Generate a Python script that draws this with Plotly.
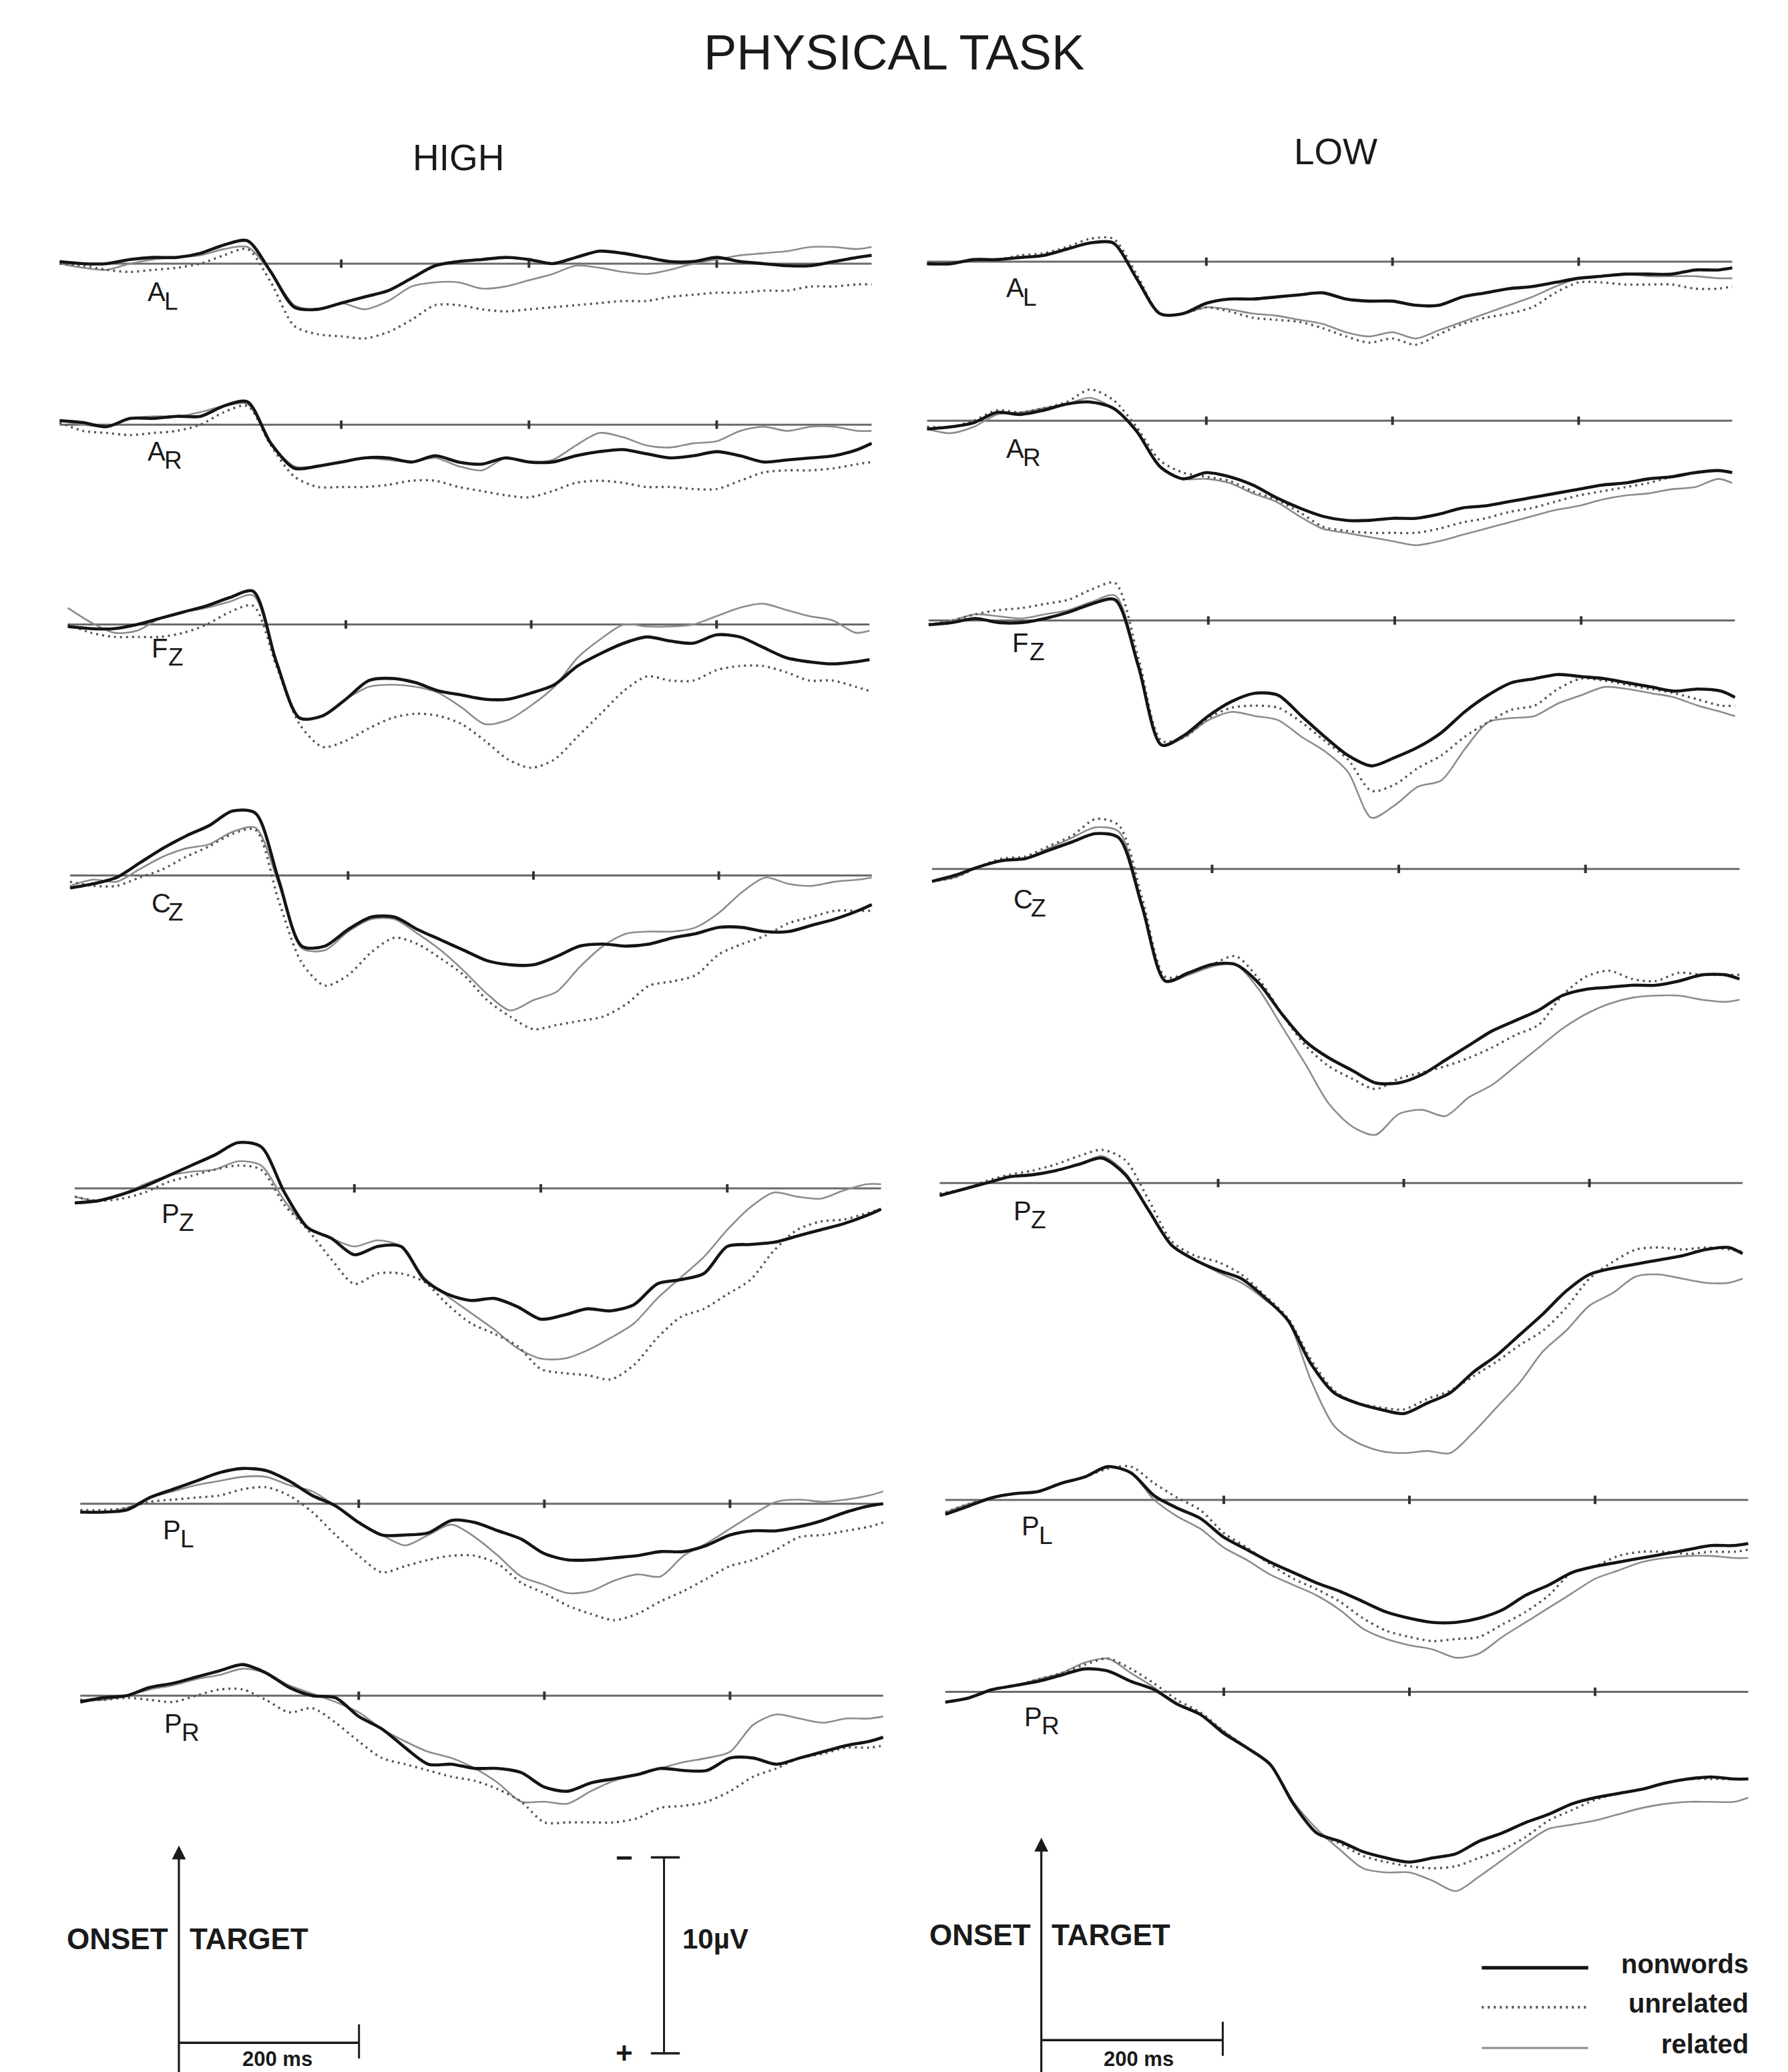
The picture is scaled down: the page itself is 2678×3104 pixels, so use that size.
import plotly.graph_objects as go

# ---------------------------------------------------------------- page
W, H = 2678, 3104
S = W / 1360.0            # sketch units (reference at 1360 wide) -> pixels
HD = H / S                # page height in sketch units
PX_PER_UV = 15.8          # sketch units per microvolt (negative plotted up)

# ---------------------------------------------------------------- data
T = [-100, -75, -50, -25, 0, 25, 50, 75, 100, 125, 150, 175, 200, 225, 250, 275,
     300, 325, 350, 375, 400, 425, 450, 475, 500, 525, 550, 575, 600, 625, 650,
     675, 700, 725, 750, 765]   # ms after target onset

COLUMNS = ["HIGH", "LOW"]
ELECTRODES = ["AL", "AR", "FZ", "CZ", "PZ", "PL", "PR"]
LABEL_MAIN = ["A", "A", "F", "C", "P", "P", "P"]
LABEL_SUB = ["L", "R", "Z", "Z", "Z", "L", "R"]
CONDITIONS = ["related", "unrelated", "nonwords"]   # drawing order
TICKS_MS = [200, 400, 600]
EPOCH_MS = [-100, 765]

# amplitudes in microvolts
HIGH_AL_NONWORDS = [-0.1,0.0,0.0,-0.2,-0.3,-0.3,-0.5,-0.9,-1.1,0.4,2.1,2.2,1.9,1.6,1.3,0.7,0.1,-0.1,-0.2,-0.3,-0.2,0.0,-0.3,-0.6,-0.5,-0.3,-0.1,-0.1,-0.3,-0.1,0.0,0.1,0.1,-0.1,-0.3,-0.4]
HIGH_AL_UNRELATED = [0.0,0.1,0.3,0.4,0.3,0.2,0.0,-0.4,-0.7,0.9,3.0,3.4,3.5,3.6,3.3,2.7,2.0,2.0,2.2,2.3,2.2,2.1,2.0,1.9,1.8,1.8,1.6,1.5,1.4,1.4,1.3,1.3,1.1,1.1,1.0,1.0]
HIGH_AL_RELATED = [0.0,0.2,0.3,0.0,-0.2,-0.3,-0.4,-0.7,-0.8,0.4,2.0,2.2,1.9,2.2,1.8,1.1,0.9,0.9,1.2,1.1,0.8,0.5,0.1,0.2,0.4,0.5,0.3,0.0,-0.2,-0.4,-0.5,-0.6,-0.8,-0.8,-0.7,-0.8]

HIGH_AR_NONWORDS = [-0.2,-0.1,0.1,-0.3,-0.3,-0.4,-0.4,-0.9,-1.1,0.9,2.1,2.0,1.8,1.6,1.6,1.8,1.5,1.8,1.9,1.6,1.8,1.8,1.5,1.3,1.2,1.4,1.6,1.5,1.3,1.5,1.8,1.7,1.6,1.5,1.2,0.9]
HIGH_AR_UNRELATED = [-0.1,0.3,0.4,0.5,0.4,0.3,0.0,-0.6,-0.9,1.0,2.5,3.0,3.0,3.0,2.9,2.7,2.7,3.0,3.2,3.4,3.5,3.2,2.8,2.7,2.8,3.0,3.0,3.1,3.1,2.7,2.3,2.2,2.2,2.1,1.9,1.8]
HIGH_AR_RELATED = [-0.2,0.0,0.1,-0.3,-0.4,-0.4,-0.6,-0.9,-1.0,0.9,2.0,2.0,1.8,1.6,1.7,1.8,1.6,2.0,2.2,1.6,1.8,1.7,1.0,0.4,0.6,1.0,1.1,0.9,0.8,0.3,0.1,0.3,0.1,0.1,0.3,0.3]

HIGH_FZ_NONWORDS = [0.1,0.2,0.2,0.0,-0.3,-0.6,-0.9,-1.3,-1.6,1.8,4.5,4.4,3.6,2.7,2.6,2.8,3.2,3.4,3.6,3.6,3.3,2.9,2.0,1.4,0.9,0.6,0.8,0.9,0.5,0.6,1.1,1.6,1.8,1.9,1.8,1.7]
HIGH_FZ_UNRELATED = [0.0,0.4,0.6,0.6,0.6,0.4,0.0,-0.6,-0.9,2.0,4.8,5.9,5.6,5.0,4.5,4.3,4.4,4.8,5.6,6.5,6.9,6.5,5.4,4.3,3.2,2.5,2.7,2.7,2.2,2.0,2.0,2.3,2.7,2.7,3.0,3.2]
HIGH_FZ_RELATED = [-0.8,-0.1,0.4,0.3,-0.3,-0.6,-0.8,-1.1,-1.4,1.8,4.5,4.4,3.6,3.0,2.9,3.0,3.3,4.0,4.8,4.6,3.9,3.0,1.6,0.7,0.0,0.1,0.1,0.0,-0.4,-0.8,-1.0,-0.7,-0.4,-0.2,0.4,0.3]

HIGH_CZ_NONWORDS = [0.6,0.4,0.1,-0.6,-1.3,-1.9,-2.4,-3.1,-3.0,0.2,3.4,3.4,2.6,2.0,2.0,2.6,3.1,3.6,4.1,4.3,4.3,3.9,3.4,3.3,3.4,3.3,3.0,2.8,2.5,2.5,2.7,2.7,2.4,2.1,1.7,1.4]
HIGH_CZ_UNRELATED = [0.3,0.5,0.5,0.1,-0.3,-0.9,-1.4,-2.0,-2.2,1.2,4.2,5.3,4.8,3.7,3.0,3.3,4.0,4.8,6.0,6.8,7.4,7.2,7.0,6.8,6.2,5.3,5.1,4.8,3.8,3.3,2.9,2.3,2.0,1.7,1.7,1.7]
HIGH_CZ_RELATED = [0.5,0.2,0.3,-0.3,-0.9,-1.3,-1.5,-2.1,-2.3,0.4,3.5,3.6,2.7,2.1,2.1,2.8,3.6,4.6,5.7,6.5,6.0,5.6,4.4,3.4,2.8,2.7,2.7,2.5,1.8,0.8,0.1,0.4,0.5,0.3,0.2,0.1]

HIGH_PZ_NONWORDS = [0.7,0.6,0.3,-0.1,-0.6,-1.1,-1.6,-2.2,-2.0,0.2,1.9,2.4,3.2,2.8,2.8,4.4,5.1,5.4,5.3,5.7,6.3,6.1,5.8,5.9,5.6,4.6,4.4,4.1,2.8,2.7,2.6,2.3,2.0,1.7,1.3,1.0]
HIGH_PZ_UNRELATED = [0.4,0.6,0.5,0.2,-0.3,-0.6,-0.9,-1.1,-0.9,0.8,2.0,3.4,4.6,4.1,4.1,4.5,5.6,6.5,7.0,7.6,8.7,8.9,9.0,9.2,8.5,7.2,6.2,5.8,5.1,4.4,3.0,2.0,1.6,1.5,1.2,1.0]
HIGH_PZ_RELATED = [0.4,0.6,0.3,-0.2,-0.6,-0.8,-0.9,-1.3,-1.1,0.6,1.9,2.4,2.8,2.5,2.8,4.3,5.2,6.0,6.8,7.7,8.2,8.2,7.8,7.2,6.5,5.3,4.3,3.3,2.0,0.9,0.2,0.4,0.5,0.1,-0.2,-0.2]

HIGH_PL_NONWORDS = [0.4,0.4,0.3,-0.3,-0.7,-1.1,-1.5,-1.7,-1.6,-1.1,-0.4,0.1,0.9,1.5,1.5,1.4,0.8,0.9,1.3,1.7,2.4,2.7,2.7,2.6,2.5,2.3,2.3,2.0,1.5,1.3,1.3,1.1,0.8,0.4,0.1,0.0]
HIGH_PL_UNRELATED = [0.3,0.3,0.2,-0.1,-0.2,-0.3,-0.4,-0.7,-0.8,-0.4,0.4,1.5,2.5,3.3,3.0,2.7,2.5,2.5,2.9,3.8,4.3,4.9,5.3,5.6,5.3,4.7,4.2,3.6,3.0,2.7,2.2,1.6,1.5,1.3,1.1,0.9]
HIGH_PL_RELATED = [0.4,0.4,0.2,-0.3,-0.6,-0.9,-1.1,-1.3,-1.3,-0.9,-0.6,0.1,0.9,1.5,2.0,1.5,1.0,1.6,2.5,3.5,3.9,4.3,4.2,3.7,3.4,3.5,2.5,1.9,1.2,0.5,-0.1,-0.2,-0.1,-0.2,-0.4,-0.6]

HIGH_PR_NONWORDS = [0.3,0.1,0.0,-0.4,-0.6,-0.9,-1.2,-1.5,-1.1,-0.4,0.0,0.1,1.0,1.6,2.5,3.3,3.3,3.5,3.5,3.7,4.4,4.6,4.2,4.0,3.8,3.5,3.6,3.6,3.0,3.0,3.3,3.0,2.7,2.4,2.2,2.0]
HIGH_PR_UNRELATED = [0.2,0.2,0.1,0.2,0.3,0.0,-0.3,-0.3,0.2,0.8,0.6,1.3,2.2,3.0,3.3,3.6,3.9,4.1,4.5,5.1,6.1,6.1,6.1,6.1,5.9,5.4,5.3,5.1,4.6,3.9,3.5,3.0,2.8,2.5,2.5,2.4]
HIGH_PR_RELATED = [0.2,0.2,0.0,-0.3,-0.5,-0.8,-1.0,-1.3,-1.1,-0.5,-0.1,0.3,0.8,1.6,2.2,2.7,3.0,3.5,4.2,5.1,5.1,5.2,4.6,4.1,3.8,3.5,3.2,3.0,2.7,1.4,0.9,1.1,1.3,1.1,1.1,1.0]

LOW_AL_NONWORDS = [0.1,0.1,-0.1,-0.1,-0.2,-0.3,-0.6,-0.9,-0.9,0.8,2.5,2.5,2.0,1.8,1.8,1.7,1.6,1.5,1.8,1.9,1.9,2.1,2.1,1.7,1.5,1.3,1.2,1.0,0.8,0.7,0.6,0.6,0.6,0.4,0.4,0.3]
LOW_AL_UNRELATED = [0.1,0.1,-0.1,-0.1,-0.3,-0.4,-0.7,-1.1,-1.1,0.6,2.5,2.5,2.2,2.4,2.7,2.8,2.9,3.2,3.6,3.9,3.7,4.0,3.5,3.0,2.7,2.5,2.2,1.5,1.0,1.0,1.1,1.1,1.1,1.3,1.3,1.2]
LOW_AL_RELATED = [0.1,0.1,-0.1,-0.1,-0.2,-0.3,-0.6,-0.9,-0.9,0.8,2.5,2.5,2.2,2.3,2.5,2.6,2.8,3.0,3.4,3.6,3.4,3.7,3.3,2.9,2.5,2.1,1.7,1.2,0.8,0.7,0.6,0.7,0.7,0.7,0.8,0.8]

LOW_AR_NONWORDS = [0.4,0.3,0.1,-0.4,-0.3,-0.5,-0.8,-0.9,-0.6,0.5,2.2,2.8,2.5,2.7,3.1,3.7,4.2,4.6,4.8,4.8,4.7,4.7,4.5,4.2,4.1,3.9,3.7,3.5,3.3,3.1,3.0,2.8,2.7,2.5,2.4,2.5]
LOW_AR_UNRELATED = [0.3,0.3,0.0,-0.5,-0.4,-0.6,-0.9,-1.5,-1.0,0.3,1.9,2.5,2.7,2.9,3.4,3.8,4.4,5.1,5.3,5.4,5.4,5.4,5.2,4.9,4.7,4.4,4.2,3.9,3.6,3.4,3.2,3.0,2.7,2.5,2.4,2.5]
LOW_AR_RELATED = [0.4,0.6,0.3,-0.3,-0.4,-0.6,-0.8,-1.1,-0.6,0.5,2.2,2.8,2.8,3.0,3.5,3.9,4.6,5.2,5.4,5.6,5.8,6.0,5.8,5.5,5.2,4.9,4.6,4.3,4.1,3.8,3.6,3.5,3.3,3.2,2.8,3.0]

LOW_FZ_NONWORDS = [0.2,0.1,-0.1,0.1,0.1,-0.1,-0.4,-0.8,-1.0,2.2,6.0,5.5,4.6,3.9,3.5,3.6,4.6,5.6,6.5,7.0,6.6,6.1,5.4,4.4,3.6,3.0,2.8,2.6,2.7,2.8,3.0,3.2,3.4,3.3,3.4,3.7]
LOW_FZ_UNRELATED = [0.2,0.0,-0.3,-0.5,-0.6,-0.8,-1.0,-1.5,-1.8,1.8,5.8,5.6,4.7,4.2,4.1,4.2,4.9,5.8,6.7,8.2,7.9,7.1,6.5,5.6,4.9,4.3,4.1,3.3,2.8,2.9,3.1,3.3,3.5,3.8,4.1,4.1]
LOW_FZ_RELATED = [0.2,0.0,-0.3,-0.2,-0.1,-0.3,-0.5,-0.9,-1.2,2.1,6.0,5.6,4.8,4.4,4.6,4.8,5.6,6.3,7.3,9.5,8.9,8.0,7.7,6.2,4.9,4.7,4.6,4.0,3.6,3.2,3.3,3.5,3.7,4.1,4.4,4.6]

LOW_CZ_NONWORDS = [0.6,0.3,-0.1,-0.4,-0.5,-0.9,-1.3,-1.7,-1.5,1.8,5.4,5.0,4.6,4.6,5.5,7.0,8.3,9.1,9.7,10.3,10.3,9.9,9.2,8.5,7.8,7.3,6.8,6.1,5.8,5.7,5.6,5.6,5.4,5.1,5.1,5.3]
LOW_CZ_UNRELATED = [0.6,0.4,-0.1,-0.5,-0.6,-1.1,-1.6,-2.4,-2.1,1.4,5.2,5.0,4.6,4.2,5.3,7.0,8.5,9.5,10.1,10.6,10.1,9.8,9.5,9.1,8.6,8.0,7.5,6.1,5.2,4.9,5.3,5.4,5.0,5.1,5.1,5.1]
LOW_CZ_RELATED = [0.6,0.4,-0.1,-0.4,-0.5,-1.0,-1.5,-2.0,-1.8,1.7,5.4,5.1,4.7,4.6,5.8,7.6,9.4,11.3,12.4,12.8,11.8,11.6,11.9,11.0,10.4,9.5,8.6,7.7,7.0,6.5,6.2,6.1,6.1,6.3,6.4,6.3]

LOW_PZ_NONWORDS = [0.6,0.3,0.0,-0.3,-0.4,-0.6,-0.9,-1.2,-0.4,1.3,3.0,3.7,4.2,4.6,5.5,6.6,8.7,10.1,10.6,10.9,11.1,10.6,10.1,9.1,8.3,7.3,6.3,5.2,4.4,4.1,3.9,3.7,3.5,3.2,3.1,3.4]
LOW_PZ_UNRELATED = [0.5,0.3,-0.1,-0.4,-0.6,-0.9,-1.3,-1.6,-1.1,0.8,2.8,3.5,3.8,4.4,5.4,6.5,8.5,10.0,10.6,10.8,10.9,10.4,10.0,9.3,8.6,7.8,7.1,6.0,4.6,3.8,3.2,3.1,3.2,3.1,3.2,3.3]
LOW_PZ_RELATED = [0.6,0.3,0.0,-0.3,-0.4,-0.6,-0.9,-1.3,-0.5,1.3,3.0,3.7,4.3,4.8,5.6,6.6,9.5,11.7,12.5,12.9,13.0,12.9,13.0,12.0,10.8,9.6,8.1,7.1,5.9,5.3,4.5,4.4,4.6,4.8,4.8,4.6]

LOW_PL_NONWORDS = [0.7,0.3,-0.1,-0.3,-0.4,-0.8,-1.1,-1.6,-1.3,-0.2,0.4,0.9,1.8,2.4,3.0,3.5,4.0,4.4,4.9,5.4,5.7,5.9,5.9,5.7,5.3,4.6,4.1,3.5,3.2,3.0,2.8,2.6,2.4,2.2,2.2,2.1]
LOW_PL_UNRELATED = [0.6,0.2,-0.1,-0.3,-0.4,-0.8,-1.1,-1.5,-1.6,-0.8,-0.1,0.5,1.6,2.3,3.1,3.8,4.3,4.9,5.7,6.3,6.6,6.8,6.7,6.6,6.0,5.4,4.6,3.5,3.2,2.7,2.5,2.5,2.6,2.5,2.5,2.4]
LOW_PL_RELATED = [0.6,0.2,-0.1,-0.3,-0.4,-0.8,-1.1,-1.6,-1.3,0.0,0.8,1.4,2.3,2.9,3.6,4.1,4.6,5.3,6.2,6.7,7.0,7.2,7.6,7.4,6.6,5.9,5.2,4.5,3.8,3.4,3.0,2.8,2.7,2.7,2.8,2.8]

LOW_PR_NONWORDS = [0.5,0.3,-0.1,-0.3,-0.5,-0.8,-1.1,-1.0,-0.5,-0.1,0.6,1.1,2.0,2.7,3.5,5.4,6.8,7.2,7.7,8.0,8.2,8.0,7.8,7.2,6.8,6.3,5.9,5.4,5.1,4.9,4.7,4.4,4.2,4.1,4.2,4.2]
LOW_PR_UNRELATED = [0.5,0.3,-0.1,-0.3,-0.6,-0.9,-1.3,-1.6,-1.1,-0.4,0.4,1.0,1.9,2.7,3.5,5.4,6.8,7.3,7.9,8.2,8.4,8.5,8.4,8.0,7.6,7.0,6.2,5.7,5.2,4.9,4.7,4.4,4.2,4.2,4.2,4.2]
LOW_PR_RELATED = [0.5,0.3,-0.1,-0.3,-0.6,-0.9,-1.4,-1.6,-0.9,-0.2,0.6,1.1,1.9,2.7,3.5,5.3,6.6,7.6,8.5,8.7,8.7,9.1,9.6,8.9,8.1,7.3,6.6,6.4,6.2,5.9,5.6,5.4,5.3,5.3,5.3,5.1]

SERIES = {}
for col in COLUMNS:
    for el in ELECTRODES:
        SERIES[(col, el)] = {c: globals()[f"{col}_{el}_{c.upper()}"] for c in CONDITIONS}
        for c in CONDITIONS:
            assert len(SERIES[(col, el)][c]) == len(T), (col, el, c)

# ---------------------------------------------------------------- layout geometry (sketch units)
# baseline y, x position of the 200 ms tick, px per ms
GEOM = {
    ("HIGH", "AL"): (196.5, 255.5, 0.714), ("HIGH", "AR"): (319, 255.5, 0.714),
    ("HIGH", "FZ"): (471, 259.0, 0.705),   ("HIGH", "CZ"): (662, 260.7, 0.705),
    ("HIGH", "PZ"): (900, 265.5, 0.709),   ("HIGH", "PL"): (1140, 268.8, 0.706),
    ("HIGH", "PR"): (1286, 268.8, 0.706),
    ("LOW", "AL"): (195, 913.5, 0.708),    ("LOW", "AR"): (316, 913.5, 0.708),
    ("LOW", "FZ"): (468, 915.0, 0.709),    ("LOW", "CZ"): (657, 917.9, 0.710),
    ("LOW", "PZ"): (896, 922.5, 0.706),    ("LOW", "PL"): (1137, 926.8, 0.706),
    ("LOW", "PR"): (1283, 926.8, 0.706),
}
# left edge x of the electrode letter, centre y of the letter
LABEL_POS = {
    ("HIGH", "AL"): (107, 218), ("HIGH", "AR"): (107, 339), ("HIGH", "FZ"): (110, 489),
    ("HIGH", "CZ"): (110, 683), ("HIGH", "PZ"): (118, 919), ("HIGH", "PL"): (119, 1160),
    ("HIGH", "PR"): (120, 1307),
    ("LOW", "AL"): (760, 215), ("LOW", "AR"): (760, 337), ("LOW", "FZ"): (765, 485),
    ("LOW", "CZ"): (766, 680), ("LOW", "PZ"): (766, 917), ("LOW", "PL"): (772, 1157),
    ("LOW", "PR"): (774, 1302),
}

STYLE = {
    "nonwords": dict(color="#141414", width=4.6),
    "unrelated": dict(color="#555555", width=3.4, dash="3px,6px"),
    "related": dict(color="#8c8c8c", width=2.6),
}
FONT = "Liberation Sans, Arial, Helvetica, sans-serif"
INK = "#1a1a1a"


def px(xd):
    return xd / 1360.0


def py(yd):
    return 1.0 - yd / HD


fig = go.Figure()
layout = dict(
    width=W, height=H, margin=dict(l=0, r=0, t=0, b=0), autosize=False,
    paper_bgcolor="white", plot_bgcolor="rgba(0,0,0,0)", showlegend=False,
)
annotations = []
shapes = []

n = 0
for col in COLUMNS:
    for i, el in enumerate(ELECTRODES):
        n += 1
        yb, x200, k = GEOM[(col, el)]
        t_left = 200 - x200 / k
        t_right = 200 + (1360.0 - x200) / k
        v_top = -yb / PX_PER_UV
        v_bot = (HD - yb) / PX_PER_UV
        sx = "" if n == 1 else str(n)
        layout[f"xaxis{sx}"] = dict(domain=[0, 1], range=[t_left, t_right], visible=False,
                                    fixedrange=True, anchor=f"y{sx}")
        layout[f"yaxis{sx}"] = dict(domain=[0, 1], range=[v_bot, v_top], visible=False,
                                    fixedrange=True, anchor=f"x{sx}")
        xa, ya = f"x{sx}", f"y{sx}"
        # baseline and time ticks
        fig.add_trace(go.Scatter(x=EPOCH_MS, y=[0, 0], mode="lines", xaxis=xa, yaxis=ya,
                                 line=dict(color="#6a6a6a", width=3), hoverinfo="skip"))
        fig.add_trace(go.Scatter(x=TICKS_MS, y=[0] * len(TICKS_MS), mode="markers",
                                 xaxis=xa, yaxis=ya, hoverinfo="skip",
                                 marker=dict(symbol="line-ns", size=9,
                                             line=dict(color="#333", width=4))))
        for c in CONDITIONS:
            fig.add_trace(go.Scatter(
                x=T, y=SERIES[(col, el)][c], mode="lines", name=c, xaxis=xa, yaxis=ya,
                line=dict(shape="spline", smoothing=0.8, **STYLE[c]),
                hovertemplate=f"{col} {el} {c}<br>%{{x}} ms: %{{y}} µV<extra></extra>"))
        lx, ly = LABEL_POS[(col, el)]
        annotations.append(dict(x=px(lx), y=py(ly), xref="paper", yref="paper",
                                text=LABEL_MAIN[i], showarrow=False, xanchor="left",
                                yanchor="middle", font=dict(family=FONT, size=40, color=INK)))
        annotations.append(dict(x=px(lx + 13), y=py(ly + 7), xref="paper", yref="paper",
                                text=LABEL_SUB[i], showarrow=False, xanchor="left",
                                yanchor="middle", font=dict(family=FONT, size=37, color=INK)))

# ---------------------------------------------------------------- titles
annotations.append(dict(x=px(676), y=py(36), xref="paper", yref="paper", text="PHYSICAL TASK",
                        showarrow=False, xanchor="center", yanchor="middle",
                        font=dict(family=FONT, size=74, color=INK)))
annotations.append(dict(x=px(345), y=py(116), xref="paper", yref="paper", text="HIGH",
                        showarrow=False, xanchor="center", yanchor="middle",
                        font=dict(family=FONT, size=55, color=INK)))
annotations.append(dict(x=px(1012), y=py(111), xref="paper", yref="paper", text="LOW",
                        showarrow=False, xanchor="center", yanchor="middle",
                        font=dict(family=FONT, size=55, color=INK)))

# ---------------------------------------------------------------- onset arrows and time bars
for (ax_x, tip_y, bar_y, bar_end, onset_y, ms_x) in [(132, 1400, 1550, 269, 1471, 207),
                                                     (788, 1394, 1548, 926, 1468, 862)]:
    annotations.append(dict(x=px(ax_x), y=py(tip_y), xref="paper", yref="paper", text="",
                            showarrow=True, ax=0, ay=(1580 - tip_y) * S, arrowhead=2,
                            arrowsize=1.3, arrowwidth=3.2, arrowcolor=INK, standoff=0,
                            startstandoff=0))
    shapes.append(dict(type="line", xref="paper", yref="paper", x0=px(ax_x), x1=px(bar_end),
                       y0=py(bar_y), y1=py(bar_y), line=dict(color=INK, width=3.5)))
    shapes.append(dict(type="line", xref="paper", yref="paper", x0=px(bar_end), x1=px(bar_end),
                       y0=py(bar_y - 14), y1=py(bar_y + 12), line=dict(color=INK, width=3)))
    annotations.append(dict(x=px(ax_x - 7), y=py(onset_y), xref="paper", yref="paper",
                            text="<b>ONSET</b>", showarrow=False, xanchor="right",
                            yanchor="middle", font=dict(family=FONT, size=44, color=INK)))
    annotations.append(dict(x=px(ax_x + 7), y=py(onset_y), xref="paper", yref="paper",
                            text="<b>TARGET</b>", showarrow=False, xanchor="left",
                            yanchor="middle", font=dict(family=FONT, size=44, color=INK)))
    annotations.append(dict(x=px(ms_x), y=py(1562.5), xref="paper", yref="paper",
                            text="<b>200 ms</b>", showarrow=False, xanchor="center",
                            yanchor="middle", font=dict(family=FONT, size=31, color=INK)))

# ---------------------------------------------------------------- 10 µV calibration bar
CAL_X, CAL_TOP, CAL_BOT = 501, 1409, 1558
shapes.append(dict(type="line", xref="paper", yref="paper", x0=px(CAL_X), x1=px(CAL_X),
                   y0=py(CAL_TOP), y1=py(CAL_BOT), line=dict(color=INK, width=3)))
for yy in (CAL_TOP, CAL_BOT):
    shapes.append(dict(type="line", xref="paper", yref="paper", x0=px(CAL_X - 10),
                       x1=px(CAL_X + 12), y0=py(yy), y1=py(yy), line=dict(color=INK, width=3.5)))
annotations.append(dict(x=px(471), y=py(CAL_TOP), xref="paper", yref="paper", text="<b>−</b>",
                        showarrow=False, xanchor="center", yanchor="middle",
                        font=dict(family=FONT, size=44, color=INK)))
annotations.append(dict(x=px(471), y=py(CAL_BOT), xref="paper", yref="paper", text="<b>+</b>",
                        showarrow=False, xanchor="center", yanchor="middle",
                        font=dict(family=FONT, size=44, color=INK)))
annotations.append(dict(x=px(514), y=py(1471), xref="paper", yref="paper", text="<b>10µV</b>",
                        showarrow=False, xanchor="left", yanchor="middle",
                        font=dict(family=FONT, size=42, color=INK)))

# ---------------------------------------------------------------- legend
LEGEND_Y = {"nonwords": 1493, "unrelated": 1523, "related": 1554}
for c in ["nonwords", "unrelated", "related"]:
    st = STYLE[c]
    shapes.append(dict(type="line", xref="paper", yref="paper", x0=px(1123), x1=px(1204),
                       y0=py(LEGEND_Y[c]), y1=py(LEGEND_Y[c]),
                       line=dict(color=st["color"], width=st["width"] + 0.5,
                                 dash=st.get("dash", "solid"))))
    annotations.append(dict(x=px(1327), y=py(LEGEND_Y[c] - 3), xref="paper", yref="paper",
                            text=f"<b>{c}</b>", showarrow=False, xanchor="right",
                            yanchor="middle", font=dict(family=FONT, size=40, color=INK)))

layout["annotations"] = annotations
layout["shapes"] = shapes
fig.update_layout(**layout)
fig.write_html("out.html")
